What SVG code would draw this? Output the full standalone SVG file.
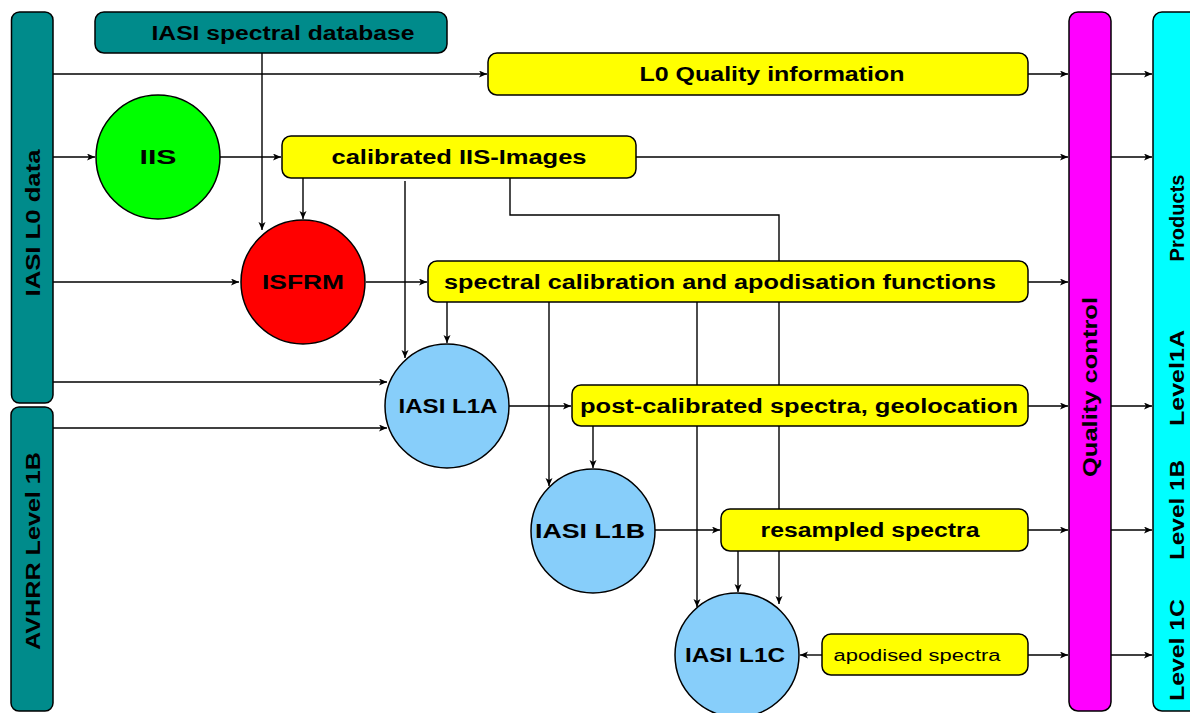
<svg xmlns="http://www.w3.org/2000/svg" width="1190" height="713" viewBox="0 0 1190 713">
<style>
.t{font-family:"Liberation Sans",Arial,sans-serif;font-weight:bold;font-size:20px;fill:#000}
.s{font-size:16px;font-weight:normal}
.box{fill:#ffff00;stroke:#000;stroke-width:1.5}
.bar{stroke:#000;stroke-width:1.5}
.c{fill:none;stroke:#000;stroke-width:1.4}
</style>
<defs>
<marker id="a" markerUnits="userSpaceOnUse" markerWidth="9" markerHeight="8" refX="8" refY="3.5" orient="auto">
<path d="M0,0 L8,3.5 L0,7 L2,3.5 z" fill="#000"/>
</marker>
</defs>
<rect width="1190" height="713" fill="#fff"/>
<g id="connectors">
<path class="c" d="M53,74 H487" marker-end="url(#a)"/>
<path class="c" d="M1028,74 H1068" marker-end="url(#a)"/>
<path class="c" d="M1111,74 H1152" marker-end="url(#a)"/>
<path class="c" d="M53,157 H95" marker-end="url(#a)"/>
<path class="c" d="M220,157 H281" marker-end="url(#a)"/>
<path class="c" d="M636,157 H1068" marker-end="url(#a)"/>
<path class="c" d="M1111,157 H1152" marker-end="url(#a)"/>
<path class="c" d="M262,53 V230" marker-end="url(#a)"/>
<path class="c" d="M303,178 V219" marker-end="url(#a)"/>
<path class="c" d="M405,181 V358" marker-end="url(#a)"/>
<path class="c" d="M510,178 V215 H779 V604" marker-end="url(#a)"/>
<path class="c" d="M53,282 H239" marker-end="url(#a)"/>
<path class="c" d="M366,282 H427" marker-end="url(#a)"/>
<path class="c" d="M1028,282 H1068" marker-end="url(#a)"/>
<path class="c" d="M447,302 V343" marker-end="url(#a)"/>
<path class="c" d="M549,302 V486" marker-end="url(#a)"/>
<path class="c" d="M697,302 V607" marker-end="url(#a)"/>
<path class="c" d="M53,382 H387" marker-end="url(#a)"/>
<path class="c" d="M53,428 H387" marker-end="url(#a)"/>
<path class="c" d="M509,406 H571" marker-end="url(#a)"/>
<path class="c" d="M1028,406 H1068" marker-end="url(#a)"/>
<path class="c" d="M1111,406 H1152" marker-end="url(#a)"/>
<path class="c" d="M593,426 V468" marker-end="url(#a)"/>
<path class="c" d="M655,530 H720" marker-end="url(#a)"/>
<path class="c" d="M1028,530 H1068" marker-end="url(#a)"/>
<path class="c" d="M1111,530 H1152" marker-end="url(#a)"/>
<path class="c" d="M738,551 V592" marker-end="url(#a)"/>
<path class="c" d="M822,655 H800" marker-end="url(#a)"/>
<path class="c" d="M1028,655 H1068" marker-end="url(#a)"/>
<path class="c" d="M1111,655 H1152" marker-end="url(#a)"/>
</g>
<g id="iasi-l0-data">
<rect class="bar" x="11.5" y="12" width="41.5" height="391" rx="8" fill="#008b8b"/>
<text class="t" transform="translate(40,223) rotate(-90)" text-anchor="middle" textLength="147" lengthAdjust="spacingAndGlyphs">IASI L0 data</text>
</g>
<g id="avhrr">
<rect class="bar" x="11" y="407" width="42" height="304" rx="8" fill="#008b8b"/>
<text class="t" transform="translate(40,551) rotate(-90)" text-anchor="middle" textLength="198" lengthAdjust="spacingAndGlyphs">AVHRR Level 1B</text>
</g>
<g id="database">
<rect class="bar" x="95" y="12" width="352" height="41" rx="9" fill="#008b8b"/>
<text class="t" x="283" y="40" text-anchor="middle" textLength="263" lengthAdjust="spacingAndGlyphs">IASI spectral database</text>
</g>
<g id="l0-quality">
<rect class="box" x="488" y="53" width="540" height="42" rx="9"/>
<text class="t" x="772" y="81" text-anchor="middle" textLength="265" lengthAdjust="spacingAndGlyphs">L0 Quality information</text>
</g>
<g id="iis">
<circle cx="158" cy="157" r="62" fill="#00ff00" stroke="#000" stroke-width="1.5"/>
<text class="t" x="158" y="164" text-anchor="middle" textLength="37" lengthAdjust="spacingAndGlyphs">IIS</text>
</g>
<g id="calibrated-iis">
<rect class="box" x="282" y="136" width="354" height="42" rx="9"/>
<text class="t" x="459" y="164" text-anchor="middle" textLength="255" lengthAdjust="spacingAndGlyphs">calibrated IIS-Images</text>
</g>
<g id="isfrm">
<circle cx="303" cy="282" r="62" fill="#ff0000" stroke="#000" stroke-width="1.5"/>
<text class="t" x="303" y="289" text-anchor="middle" textLength="82" lengthAdjust="spacingAndGlyphs">ISFRM</text>
</g>
<g id="spectral-cal">
<rect class="box" x="428" y="261" width="600" height="41" rx="9"/>
<text class="t" x="720" y="289" text-anchor="middle" textLength="552" lengthAdjust="spacingAndGlyphs">spectral calibration and apodisation functions</text>
</g>
<g id="iasi-l1a">
<circle cx="447" cy="406" r="62" fill="#87cefa" stroke="#000" stroke-width="1.5"/>
<text class="t" x="448" y="413" text-anchor="middle" textLength="99" lengthAdjust="spacingAndGlyphs">IASI L1A</text>
</g>
<g id="post-cal">
<rect class="box" x="572" y="385" width="456" height="41" rx="9"/>
<text class="t" x="799" y="413" text-anchor="middle" textLength="438" lengthAdjust="spacingAndGlyphs">post-calibrated spectra, geolocation</text>
</g>
<g id="iasi-l1b">
<circle cx="593" cy="531" r="62" fill="#87cefa" stroke="#000" stroke-width="1.5"/>
<text class="t" x="590" y="538" text-anchor="middle" textLength="110" lengthAdjust="spacingAndGlyphs">IASI L1B</text>
</g>
<g id="resampled">
<rect class="box" x="721" y="509" width="307" height="42" rx="9"/>
<text class="t" x="870" y="537" text-anchor="middle" textLength="219" lengthAdjust="spacingAndGlyphs">resampled spectra</text>
</g>
<g id="iasi-l1c">
<circle cx="737" cy="655" r="62" fill="#87cefa" stroke="#000" stroke-width="1.5"/>
<text class="t" x="735" y="662" text-anchor="middle" textLength="100" lengthAdjust="spacingAndGlyphs">IASI L1C</text>
</g>
<g id="apodised">
<rect class="box" x="822" y="634" width="206" height="41" rx="9"/>
<text class="t s" x="917" y="661" text-anchor="middle" textLength="167" lengthAdjust="spacingAndGlyphs">apodised spectra</text>
</g>
<g id="quality-control">
<rect class="bar" x="1069" y="12" width="42" height="699" rx="9" fill="#ff00ff"/>
<text class="t" transform="translate(1097,387) rotate(-90)" text-anchor="middle" textLength="180" lengthAdjust="spacingAndGlyphs">Quality control</text>
</g>
<g id="products">
<rect class="bar" x="1153" y="12" width="50" height="699" rx="9" fill="#00ffff"/>
<text class="t" transform="translate(1184,218) rotate(-90)" text-anchor="middle" textLength="87" lengthAdjust="spacingAndGlyphs">Products</text>
<text class="t" transform="translate(1184,378) rotate(-90)" text-anchor="middle" textLength="96" lengthAdjust="spacingAndGlyphs">Level1A</text>
<text class="t" transform="translate(1184,510) rotate(-90)" text-anchor="middle" textLength="100" lengthAdjust="spacingAndGlyphs">Level 1B</text>
<text class="t" transform="translate(1184,650) rotate(-90)" text-anchor="middle" textLength="102" lengthAdjust="spacingAndGlyphs">Level 1C</text>
</g>
</svg>
